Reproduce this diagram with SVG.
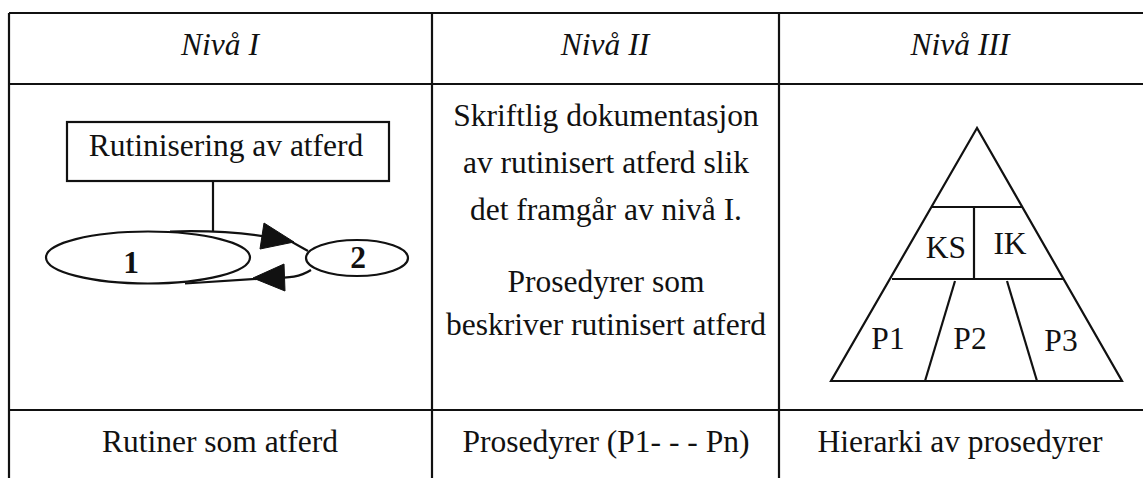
<svg xmlns="http://www.w3.org/2000/svg" width="1143" height="478" viewBox="0 0 1143 478">
  <style>
    .grid { stroke: #111; stroke-width: 2.2; fill: none; }
    .shape { stroke: #111; stroke-width: 2.2; fill: #fff; }
    .edge { stroke: #111; stroke-width: 2.2; fill: none; }
    .head { fill: #111; stroke: #111; stroke-width: 1; }
    .t { font-family: "Liberation Serif", "Times New Roman", serif; font-size: 31.5px; fill: #111; text-anchor: middle; }
    .hdr { font-style: italic; }
    .num { font-weight: bold; }
  </style>
  <rect width="1143" height="478" fill="#fff"/>

  <!-- table grid -->
  <g id="table">
    <line class="grid" x1="9" y1="13" x2="1143" y2="13"/>
    <line class="grid" x1="9" y1="84" x2="1143" y2="84"/>
    <line class="grid" x1="9" y1="410" x2="1143" y2="410"/>
    <line class="grid" x1="9" y1="13" x2="9" y2="478"/>
    <line class="grid" x1="432" y1="13" x2="432" y2="478"/>
    <line class="grid" x1="779" y1="13" x2="779" y2="478"/>
  </g>

  <!-- column headings -->
  <g id="headers">
    <text class="t hdr" x="220" y="55">Nivå I</text>
    <text class="t hdr" x="605" y="55">Nivå II</text>
    <text class="t hdr" x="960" y="55">Nivå III</text>
  </g>

  <!-- level I: routinisation loop -->
  <g id="node-rutinisering">
    <rect class="shape" x="67" y="122" width="322" height="59"/>
    <text class="t" x="226" y="156">Rutinisering av atferd</text>
  </g>
  <g id="node-1">
    <ellipse class="shape" cx="148" cy="257.5" rx="102" ry="26"/>
    <text class="t num" x="131" y="273">1</text>
  </g>
  <g id="node-2">
    <ellipse class="shape" cx="357" cy="258" rx="51" ry="18"/>
    <text class="t num" x="358" y="268">2</text>
  </g>
  <g id="connectors">
    <line class="edge" x1="213" y1="181" x2="213" y2="231"/>
    <path class="edge" d="M170,231.5 C225,230 262,234 292,242 L308,251"/>
    <polygon class="head" points="264,223 260,249 294,242"/>
    <path class="edge" d="M311,270 C300,277 290,278 270,278 L185,283.5"/>
    <polygon class="head" points="284,264 285,291 253,278"/>
  </g>

  <!-- level II: written documentation -->
  <g id="level2-text">
    <text class="t" x="606" y="126">Skriftlig dokumentasjon</text>
    <text class="t" x="606" y="173">av rutinisert atferd slik</text>
    <text class="t" x="606" y="220">det framgår av nivå I.</text>
    <text class="t" x="606" y="292">Prosedyrer som</text>
    <text class="t" x="606" y="335">beskriver rutinisert atferd</text>
  </g>

  <!-- level III: procedure hierarchy -->
  <g id="pyramid">
    <polygon class="grid" points="977,128 831,381 1122,381"/>
    <line class="grid" x1="931" y1="207" x2="1023" y2="207"/>
    <line class="grid" x1="892" y1="279" x2="1063" y2="279"/>
    <line class="grid" x1="974" y1="207" x2="974" y2="279"/>
    <line class="grid" x1="955" y1="281" x2="925" y2="381"/>
    <line class="grid" x1="1007" y1="281" x2="1037" y2="381"/>
    <text class="t" x="946" y="258">KS</text>
    <text class="t" x="1010" y="254">IK</text>
    <text class="t" x="888" y="349">P1</text>
    <text class="t" x="970" y="349">P2</text>
    <text class="t" x="1061" y="351">P3</text>
  </g>

  <!-- bottom row -->
  <g id="footer">
    <text class="t" x="220" y="452">Rutiner som atferd</text>
    <text class="t" x="606" y="452">Prosedyrer (P1- - - Pn)</text>
    <text class="t" x="960" y="452">Hierarki av prosedyrer</text>
  </g>
</svg>
